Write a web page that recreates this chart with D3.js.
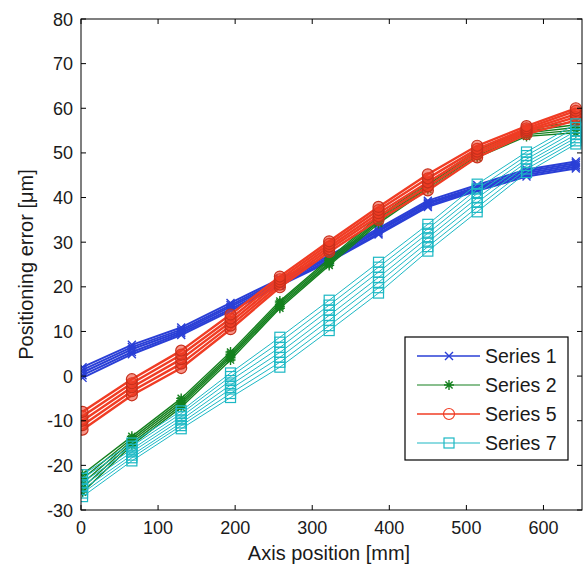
<!DOCTYPE html>
<html><head><meta charset="utf-8">
<script src="https://cdn.jsdelivr.net/npm/d3@7"></script>
<style>body{margin:0;background:#fff}svg{display:block}</style>
</head><body>
<script>
const xPositions = [2, 66, 130, 194, 258, 322, 386, 450, 514, 578, 642];
const xTicks = [0, 100, 200, 300, 400, 500, 600];
const yTicks = [-30, -20, -10, 0, 10, 20, 30, 40, 50, 60, 70, 80];

const series1Runs = [
  [-0.4, 4.9, 9.2, 14.6, 20.3, 25.6, 31.7, 37.9, 41.5, 44.7, 46.5],
  [0.2, 5.4, 9.6, 15.0, 20.6, 25.9, 32.0, 38.2, 41.8, 45.1, 46.9],
  [0.8, 6.0, 10.0, 15.5, 21.0, 26.3, 32.4, 38.6, 42.1, 45.5, 47.3],
  [1.4, 6.5, 10.4, 15.9, 21.4, 26.6, 32.7, 38.9, 42.4, 45.9, 47.7],
  [2.0, 7.0, 10.9, 16.4, 21.8, 27.0, 33.1, 39.3, 42.8, 46.3, 48.1]
];
const series2Runs = [
  [-26.0, -15.5, -7.0, 3.6, 15.2, 24.8, 34.2, 41.8, 49.0, 53.7, 54.5],
  [-25.0, -15.0, -6.5, 4.1, 15.6, 25.2, 34.6, 42.2, 49.4, 54.1, 55.1],
  [-24.0, -14.5, -6.0, 4.5, 16.0, 25.5, 35.0, 42.5, 49.8, 54.5, 55.7],
  [-23.0, -14.0, -5.5, 4.9, 16.4, 25.9, 35.4, 42.9, 50.2, 54.9, 56.3],
  [-22.0, -13.5, -5.0, 5.4, 16.8, 26.3, 35.8, 43.3, 50.6, 55.3, 57.0]
];
const series5Runs = [
  [-12.0, -4.3, 1.8, 10.5, 19.9, 27.8, 35.0, 41.6, 49.0, 54.2, 57.3],
  [-11.0, -3.4, 2.8, 11.3, 20.5, 28.4, 35.8, 42.5, 49.7, 54.7, 58.0],
  [-10.0, -2.5, 3.8, 12.1, 21.1, 29.0, 36.5, 43.4, 50.3, 55.1, 58.7],
  [-9.0, -1.6, 4.8, 12.9, 21.7, 29.6, 37.2, 44.3, 50.9, 55.5, 59.4],
  [-8.0, -0.7, 5.7, 13.8, 22.3, 30.2, 37.9, 45.2, 51.6, 56.0, 60.0]
];
const series7Runs = [
  [-27.0, -19.0, -11.8, -4.8, 2.0, 10.2, 18.6, 28.0, 36.8, 45.6, 52.0],
  [-26.2, -18.3, -11.1, -3.9, 3.1, 11.3, 19.8, 29.0, 37.8, 46.4, 52.7],
  [-25.4, -17.7, -10.5, -2.9, 4.2, 12.5, 21.0, 30.0, 38.9, 47.2, 53.4],
  [-24.6, -17.0, -9.8, -2.0, 5.3, 13.6, 22.1, 31.0, 39.9, 47.9, 54.1],
  [-23.8, -16.4, -9.1, -1.0, 6.4, 14.8, 23.3, 32.0, 40.9, 48.6, 54.9],
  [-22.9, -15.7, -8.4, -0.1, 7.6, 15.9, 24.4, 33.0, 41.9, 49.4, 55.7],
  [-22.1, -15.0, -7.8, 0.7, 8.7, 17.0, 25.5, 34.0, 43.0, 50.2, 56.5]
];
const seriesNames = ["Series 1", "Series 2", "Series 5", "Series 7"];

const seriesDefs = [
  {name: seriesNames[0], runs: series1Runs, color: "#2a3fd6", width: 2, marker: "x"},
  {name: seriesNames[1], runs: series2Runs, color: "#14801e", width: 1.4, marker: "star"},
  {name: seriesNames[2], runs: series5Runs, color: "#f03c24", width: 2.4, marker: "circle"},
  {name: seriesNames[3], runs: series7Runs, color: "#1cb8c4", width: 1, marker: "square"}
];

const W = 584, H = 567;
const m = {left: 81, top: 19, right: 2, bottom: 57};
const svg = d3.select("body").append("svg").attr("width", W).attr("height", H);
const x = d3.scaleLinear().domain([0, 650]).range([m.left, W - m.right]);
const y = d3.scaleLinear().domain([-30, 80]).range([H - m.bottom, m.top]);
const font = "'Liberation Sans', Arial, sans-serif";

const plot = svg.append("g");
plot.append("defs").append("clipPath").attr("id", "clip")
  .append("rect").attr("x", x(0)).attr("y", y(80)).attr("width", x(650) - x(0)).attr("height", y(-30) - y(80));

const line = d3.line().x((d, i) => x(xPositions[i])).y(d => y(d));

function drawMarker(g, type, cx, cy, color, legend) {
  if (type === "x") {
    const s = 4;
    g.append("path").attr("d", `M${cx-s},${cy-s}L${cx+s},${cy+s}M${cx-s},${cy+s}L${cx+s},${cy-s}`)
      .attr("stroke", color).attr("stroke-width", 1.4).attr("fill", "none");
  } else if (type === "star") {
    const s = 5, d = 3.6;
    g.append("path").attr("d", `M${cx-s},${cy}L${cx+s},${cy}M${cx},${cy-s}L${cx},${cy+s}M${cx-d},${cy-d}L${cx+d},${cy+d}M${cx-d},${cy+d}L${cx+d},${cy-d}`)
      .attr("stroke", color).attr("stroke-width", 1.4).attr("fill", "none");
  } else if (type === "circle") {
    g.append("circle").attr("cx", cx).attr("cy", cy).attr("r", 5.5)
      .attr("stroke", legend ? color : "#c8301c").attr("stroke-width", 1.2)
      .attr("fill", legend ? "none" : "rgba(240,60,36,0.55)");
  } else if (type === "square") {
    g.append("rect").attr("x", cx - 5).attr("y", cy - 5).attr("width", 10).attr("height", 10)
      .attr("stroke", color).attr("stroke-width", 1.2).attr("fill", "none");
  }
}

const marks = plot.append("g").attr("clip-path", "url(#clip)");
seriesDefs.forEach(s => {
  const g = marks.append("g");
  s.runs.forEach(run => {
    g.append("path").attr("d", line(run)).attr("fill", "none")
      .attr("stroke", s.color).attr("stroke-width", s.width).attr("stroke-linejoin", "round");
  });
  s.runs.forEach(run => {
    run.forEach((v, i) => drawMarker(g, s.marker, x(xPositions[i]), y(v), s.color, false));
  });
});

// frame and ticks
const tl = 5;
const axG = svg.append("g").attr("stroke", "#000").attr("stroke-width", 1);
axG.append("rect").attr("x", x(0)).attr("y", y(80)).attr("width", x(650) - x(0)).attr("height", y(-30) - y(80)).attr("fill", "none");
xTicks.forEach(t => {
  axG.append("line").attr("x1", x(t)).attr("x2", x(t)).attr("y1", y(-30)).attr("y2", y(-30) - tl);
  axG.append("line").attr("x1", x(t)).attr("x2", x(t)).attr("y1", y(80)).attr("y2", y(80) + tl);
});
yTicks.forEach(t => {
  axG.append("line").attr("y1", y(t)).attr("y2", y(t)).attr("x1", x(0)).attr("x2", x(0) + tl);
  axG.append("line").attr("y1", y(t)).attr("y2", y(t)).attr("x1", x(650)).attr("x2", x(650) - tl);
});

const txt = svg.append("g").attr("font-family", font).attr("font-size", 18).attr("fill", "#1a1a1a");
xTicks.forEach(t => {
  txt.append("text").attr("x", x(t)).attr("y", y(-30) + 24).attr("text-anchor", "middle").text(t);
});
yTicks.forEach(t => {
  txt.append("text").attr("x", x(0) - 8).attr("y", y(t) + 6.5).attr("text-anchor", "end").text(t);
});
txt.append("text").attr("x", 329).attr("y", 560).attr("font-size", 20).attr("text-anchor", "middle").text("Axis position [mm]");
txt.append("text").attr("transform", `translate(33,${(y(80) + y(-30)) / 2}) rotate(-90)`)
  .attr("font-size", 20).attr("text-anchor", "middle").text("Positioning error [\u03bcm]");

// legend
const lg = svg.append("g");
const lx = 405, ly = 337, lw = 163, lh = 123;
lg.append("rect").attr("x", lx).attr("y", ly).attr("width", lw).attr("height", lh)
  .attr("fill", "#fff").attr("stroke", "#000").attr("stroke-width", 1.2);
seriesDefs.forEach((s, i) => {
  const cy = ly + 19 + i * 29;
  lg.append("line").attr("x1", lx + 12).attr("x2", lx + 75).attr("y1", cy).attr("y2", cy)
    .attr("stroke", s.color).attr("stroke-width", s.width > 1.5 ? 1.6 : 1.2);
  drawMarker(lg, s.marker, lx + 44, cy, s.color, true);
  lg.append("text").attr("x", lx + 80).attr("y", cy + 7).attr("font-family", font)
    .attr("font-size", 19.5).attr("fill", "#1a1a1a").text(s.name);
});
</script>
</body></html>
